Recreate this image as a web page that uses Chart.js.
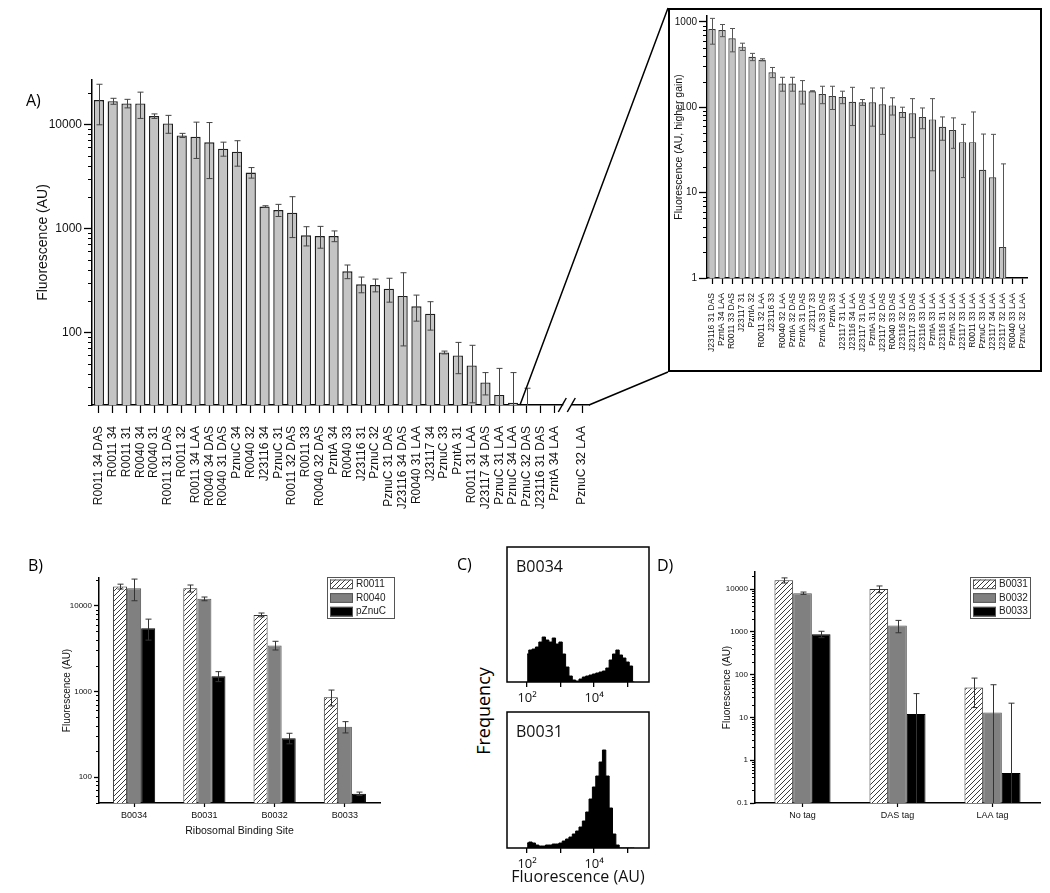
<!DOCTYPE html>
<html><head><meta charset="utf-8">
<script src="https://cdn.jsdelivr.net/npm/chart.js@4.4.1/dist/chart.umd.min.js"></script>
<style>
html,body{margin:0;padding:0;background:#fff;}
#root{position:relative;width:1050px;height:893px;overflow:hidden;background:#fff;}
canvas{position:absolute;}
.lbl{position:absolute;font-family:"Open Sans",sans-serif;color:#000;white-space:nowrap;line-height:1;-webkit-font-smoothing:antialiased;}
#insetBox{position:absolute;left:668px;top:8px;width:374px;height:364px;border:2px solid #000;box-sizing:border-box;pointer-events:none;}
</style></head><body>
<div id="root">
  <canvas id="cA" width="670" height="530" style="left:0;top:0;width:670px;height:530px"></canvas>
  <canvas id="cI" width="374" height="364" style="left:668px;top:8px;width:374px;height:364px"></canvas>
  <div id="insetBox"></div>
  <canvas id="cB" width="420" height="290" style="left:0;top:560px;width:420px;height:290px"></canvas>
  <canvas id="cC1" width="160" height="175" style="left:500px;top:540px;width:160px;height:175px"></canvas>
  <canvas id="cC2" width="160" height="188" style="left:500px;top:705px;width:160px;height:188px"></canvas>
  <canvas id="cD" width="360" height="290" style="left:690px;top:560px;width:360px;height:290px"></canvas>
  <div class="lbl" style="left:26px;top:92px;font-size:16px">A)</div>
  <div class="lbl" style="left:28px;top:557px;font-size:16px">B)</div>
  <div class="lbl" style="left:457px;top:556px;font-size:16px">C)</div>
  <div class="lbl" style="left:657px;top:557px;font-size:16px">D)</div>
  <div class="lbl" style="left:483px;top:711px;font-size:18px;transform:translate(-50%,-50%) rotate(-90deg)">Frequency</div>
</div>
<script>
// ---------------- DATA ----------------
const mainLabels = ["R0011 34 DAS","R0011 34","R0011 31","R0040 34","R0040 31","R0011 31 DAS","R0011 32","R0011 34 LAA","R0040 34 DAS","R0040 31 DAS","PznuC 34","R0040 32","J23116 34","PznuC 31","R0011 32 DAS","R0011 33","R0040 32 DAS","PzntA 34","R0040 33","J23116 31","PznuC 32","PznuC 31 DAS","J23116 34 DAS","R0040 31 LAA","J23117 34","PznuC 33","PzntA 31","R0011 31 LAA","J23117 34 DAS","PznuC 31 LAA","PznuC 34 LAA","PznuC 32 DAS","J23116 31 DAS","PzntA 34 LAA","","PznuC 32 LAA"];
const mainValues = [17100,16700,15900,15900,12000,10200,7830,7600,6710,5840,5460,3440,1620,1500,1415,857,844,844,386,290,285,263,224,178,151,64,60,48,33,25,21,12,null,null,null,null];
const mainErrors = [7200,1100,1500,4500,600,2000,360,2900,3700,900,1500,400,30,200,600,180,200,100,58,50,40,68,150,50,46,2,20,27,8,20,20,17,null,null,null,null];

const insetLabels = ["J23116 31 DAS","PzntA 34 LAA","R0011 33 DAS","J23117 31","PzntA 32","R0011 32 LAA","J23116 33","R0040 32 LAA","PzntA 32 DAS","PzntA 31 DAS","J23117 33","PzntA 33 DAS","PzntA 33","J23117 31 LAA","J23116 34 LAA","J23117 31 DAS","PzntA 31 LAA","J23117 32 DAS","R0040 33 DAS","J23116 32 LAA","J23117 33 DAS","J23116 33 LAA","PzntA 33 LAA","J23116 31 LAA","PzntA 32 LAA","J23117 33 LAA","R0011 33 LAA","PznuC 33 LAA","J23117 34 LAA","J23117 32 LAA","R0040 33 LAA","PznuC 32 LAA"];
const insetValues = [822,800,640,512,389,359,257,189,189,157,154,143,135,132,116,114,114,108,105,88,85,77,72,59,54,39,39,18.5,15.1,2.3,null,null];
const insetErrors = [275,130,195,50,38,10,35,35,35,48,2,33,41,22,55,9,54,60,24,12,41,21,54,18,21,24,49,30,33,19.4,null,null];

const rbsLabels = ["B0034","B0031","B0032","B0033"];
const bR0011 = [16700,15900,7800,857];
const bR0011Err = [1100,1500,400,180];
const bR0040 = [15900,12000,3440,386];
const bR0040Err = [4500,600,400,58];
const bPznuC = [5460,1500,285,64];
const bPznuCErr = [1500,200,40,3];

const tagLabels = ["No tag","DAS tag","LAA tag"];
const dB0031 = [16000,10000,50];
const dB0031Err = [2200,1800,33];
const dB0032 = [8000,1400,13];
const dB0032Err = [500,450,45];
const dB0033 = [880,12,0.5];
const dB0033Err = [150,24,21];

// histogram bins: log10(fluorescence) bin centres
const histBins = [2.0,2.1,2.2,2.3,2.4,2.5,2.6,2.7,2.8,2.9,3.0,3.1,3.2,3.3,3.4,3.5,3.6,3.7,3.8,3.9,4.0,4.1,4.2,4.3,4.4,4.5,4.6,4.7,4.8,4.9,5.0,5.1,5.2];
const histB0034 = [28,32,33,35,40,45,42,40,44,38,40,28,15,6,2,1,3,5,6,7,8,9,10,11,14,22,28,32,27,24,20,16,0];
const histB0031 = [5,6,5,3,2,2,3,3,4,4,5,7,9,11,14,17,21,27,36,49,61,72,86,98,72,40,14,3,0,0,0,0,0];
const histTicks = [2,3,4,5];
const histTickText = {2:"10²",4:"10⁴"};

// ---------------- HELPERS ----------------
const FONT = "'Liberation Sans', Arial, sans-serif";
const isPow10 = v => { const l = Math.log10(v); return Math.abs(l - Math.round(l)) < 1e-9; };
const isNice = v => { const e = Math.floor(Math.log10(v) + 1e-9); const m = v / Math.pow(10, e); return Math.abs(m - Math.round(m)) < 1e-6; };

function hatchPattern() {
  const c = document.createElement('canvas'); c.width = 5; c.height = 5;
  const g = c.getContext('2d');
  g.fillStyle = '#fff'; g.fillRect(0, 0, 5, 5);
  g.strokeStyle = '#222'; g.lineWidth = 0.9;
  g.beginPath(); g.moveTo(0, 5); g.lineTo(5, 0); g.moveTo(-1, 1); g.lineTo(1, -1); g.moveTo(4, 6); g.lineTo(6, 4); g.stroke();
  return g.createPattern(c, 'repeat');
}

const errorBars = {
  id: 'errorBars',
  afterDatasetsDraw(chart) {
    const ctx = chart.ctx, ys = chart.scales.y, ar = chart.chartArea;
    chart.data.datasets.forEach((ds, di) => {
      if (!ds.errors) return;
      const meta = chart.getDatasetMeta(di);
      ctx.save();
      ctx.beginPath(); ctx.rect(ar.left, ar.top - 3, ar.right - ar.left, ar.bottom - ar.top + 3); ctx.clip();
      ctx.strokeStyle = ds.errorColor || '#333'; ctx.lineWidth = ds.errorWidth || 1;
      meta.data.forEach((bar, i) => {
        const v = ds.data[i], e = ds.errors[i];
        if (v == null || e == null) return;
        const hi = v + e, lo = v - e;
        const yHi = ys.getPixelForValue(hi);
        const yLo = lo > 0 ? Math.min(ys.getPixelForValue(lo), ar.bottom) : ar.bottom;
        const x = Math.round(bar.x) + 0.5, cap = (ds.capWidth || 6) / 2;
        ctx.beginPath();
        ctx.moveTo(x, yHi); ctx.lineTo(x, yLo);
        ctx.moveTo(x - cap, yHi); ctx.lineTo(x + cap, yHi);
        if (lo > 0 && yLo < ar.bottom) { ctx.moveTo(x - cap, yLo); ctx.lineTo(x + cap, yLo); }
        ctx.stroke();
      });
      ctx.restore();
    });
  }
};

const minorTicks = {
  id: 'minorTicks',
  afterDraw(chart, args, o) {
    const s = chart.scales.y; if (!s || s.type !== 'logarithmic') return;
    const ctx = chart.ctx, len = (o && o.len) || 3;
    ctx.save(); ctx.strokeStyle = '#000'; ctx.lineWidth = 1;
    s.ticks.forEach(t => {
      if (isPow10(t.value) || !isNice(t.value)) return;
      const y = Math.round(s.getPixelForValue(t.value)) + 0.5;
      ctx.beginPath(); ctx.moveTo(s.right - len, y); ctx.lineTo(s.right, y); ctx.stroke();
    });
    ctx.restore();
  }
};

const boxLegend = {
  id: 'boxLegend',
  afterDraw(chart, args, o) {
    if (!o || !o.show) return;
    const ctx = chart.ctx, n = chart.data.datasets.length, rowH = o.h / n;
    ctx.save();
    ctx.strokeStyle = '#555'; ctx.lineWidth = 1;
    ctx.strokeRect(o.x + 0.5, o.y + 0.5, o.w, o.h);
    chart.data.datasets.forEach((ds, i) => {
      const y = o.y + i * rowH;
      ctx.fillStyle = ds.backgroundColor;
      ctx.fillRect(o.x + 3, y + 2.5, o.sw, rowH - 4);
      ctx.strokeStyle = '#555';
      ctx.strokeRect(o.x + 3.5, y + 3, o.sw - 1, rowH - 5);
      ctx.fillStyle = '#222'; ctx.font = o.font; ctx.textBaseline = 'middle'; ctx.textAlign = 'left';
      ctx.fillText(ds.label, o.x + o.sw + 6, y + rowH / 2 + 0.5);
    });
    ctx.restore();
  }
};

const zoomLines = {
  id: 'zoomLines',
  afterDraw(chart, args, o) {
    if (!o || !o.show) return;
    const ctx = chart.ctx, xs = chart.scales.x, ar = chart.chartArea;
    const x1 = (xs.getPixelForValue(o.fromIndex - 1) + xs.getPixelForValue(o.fromIndex)) / 2;
    const g = xs.getPixelForValue(o.gapIndex);
    ctx.save();
    ctx.strokeStyle = '#000'; ctx.lineWidth = 1.5;
    ctx.beginPath();
    ctx.moveTo(x1, ar.bottom); ctx.lineTo(o.boxLeft, o.boxTop);
    ctx.moveTo(ar.right, ar.bottom); ctx.lineTo(o.boxLeft, o.boxBottom);
    ctx.stroke();
    ctx.fillStyle = '#fff'; ctx.fillRect(g - 5, ar.bottom - 2, 8, 4);
    [-6, 3].forEach(dx => {
      ctx.beginPath(); ctx.moveTo(g + dx - 4, ar.bottom + 7); ctx.lineTo(g + dx + 4, ar.bottom - 7); ctx.stroke();
    });
    ctx.restore();
  }
};

const frame = {
  id: 'frame',
  afterDraw(chart, args, o) {
    if (!o || !o.text) return;
    const ctx = chart.ctx, ar = chart.chartArea;
    ctx.save();
    ctx.strokeStyle = '#000'; ctx.lineWidth = 1.5;
    ctx.strokeRect(ar.left, ar.top, ar.right - ar.left, ar.bottom - ar.top);
    ctx.fillStyle = '#111'; ctx.font = o.font; ctx.textBaseline = 'alphabetic'; ctx.textAlign = 'left';
    ctx.fillText(o.text, ar.left + o.dx, ar.top + o.dy);
    ctx.restore();
  }
};

function logAxis(p) {
  return {
    type: 'logarithmic', min: p.min, max: p.max,
    afterFit: s => { s.width = p.width; },
    border: { color: '#000', width: 1.5 },
    grid: { drawOnChartArea: false, drawTicks: true, tickLength: p.majorLen, tickWidth: 1.3,
      tickColor: c => (c.tick && isPow10(c.tick.value)) ? '#000' : 'rgba(0,0,0,0)' },
    ticks: { autoSkip: false, padding: 2, color: '#111', font: { family: FONT, size: p.tickSize },
      callback: v => isPow10(v) ? String(v) : '' },
    title: { display: true, text: p.title, color: '#111', font: { family: FONT, size: p.titleSize },
      padding: { top: p.titlePad, bottom: 0 } }
  };
}

function catAxis(p) {
  return {
    type: 'category',
    afterFit: s => { s.height = p.height; },
    border: { color: '#000', width: 1.5 },
    grid: { drawOnChartArea: false, offset: false, tickLength: p.tickLen, tickWidth: 1.2,
      tickColor: c => (p.hide != null && c.index === p.hide) ? 'rgba(0,0,0,0)' : '#000' },
    ticks: { autoSkip: false, maxRotation: p.rot, minRotation: p.rot, padding: p.pad, color: '#111',
      font: { family: FONT, size: p.size } },
    title: p.title ? { display: true, text: p.title, color: '#111', font: { family: FONT, size: p.titleSize },
      padding: { top: 0, bottom: p.titlePad } } : { display: false }
  };
}

const baseOpts = { responsive: false, animation: false, events: [] };

// ---------------- PANEL A (main) ----------------
const gapIndex = mainLabels.indexOf('');
new Chart(document.getElementById('cA'), {
  type: 'bar',
  data: { labels: mainLabels, datasets: [{ data: mainValues, errors: mainErrors,
    backgroundColor: '#c4c4c4', borderColor: '#1e1e1e', borderWidth: 1.4,
    barPercentage: 0.74, categoryPercentage: 1, capWidth: 6, errorColor: '#444' }] },
  options: Object.assign({}, baseOpts, {
    layout: { padding: { top: 80, right: 81, left: 0, bottom: 0 } },
    plugins: { legend: { display: false }, tooltip: { enabled: false }, minorTicks: { len: 4 },
      zoomLines: { show: true, fromIndex: 31, gapIndex: gapIndex, boxLeft: 668, boxTop: 8, boxBottom: 372 } },
    scales: {
      x: catAxis({ height: 125, tickLen: 8, rot: 90, pad: 13, size: 12, hide: gapIndex }),
      y: logAxis({ min: 20, max: 26700, width: 92, majorLen: 8, tickSize: 12, title: 'Fluorescence (AU)', titleSize: 14, titlePad: 35 })
    }
  }),
  plugins: [errorBars, minorTicks, zoomLines]
});

// ---------------- PANEL A (inset) ----------------
new Chart(document.getElementById('cI'), {
  type: 'bar',
  data: { labels: insetLabels, datasets: [{ data: insetValues, errors: insetErrors,
    backgroundColor: '#c4c4c4', borderColor: '#3a3a3a', borderWidth: 1.2,
    barPercentage: 0.74, categoryPercentage: 1, capWidth: 5, errorColor: '#555' }] },
  options: Object.assign({}, baseOpts, {
    layout: { padding: { top: 6, right: 9, left: 0, bottom: 0 } },
    plugins: { legend: { display: false }, tooltip: { enabled: false }, minorTicks: { len: 4 } },
    scales: {
      x: catAxis({ height: 94, tickLen: 6, rot: 90, pad: 9, size: 8.5 }),
      y: logAxis({ min: 1, max: 1170, width: 39, majorLen: 8, tickSize: 10, title: 'Fluorescence (AU, higher gain)', titleSize: 10.5, titlePad: 5 })
    }
  }),
  plugins: [errorBars, minorTicks]
});

// ---------------- PANEL B ----------------
const hatch = hatchPattern();
new Chart(document.getElementById('cB'), {
  type: 'bar',
  data: { labels: rbsLabels, datasets: [
    { label: 'R0011', data: bR0011, errors: bR0011Err, backgroundColor: hatch, borderColor: '#333', borderWidth: 1 },
    { label: 'R0040', data: bR0040, errors: bR0040Err, backgroundColor: '#808080', borderColor: '#555', borderWidth: 1 },
    { label: 'pZnuC', data: bPznuC, errors: bPznuCErr, backgroundColor: '#000', borderColor: '#000', borderWidth: 1 }
  ] },
  options: Object.assign({}, baseOpts, {
    datasets: { bar: { categoryPercentage: 0.6, barPercentage: 1, capWidth: 6, errorColor: '#444' } },
    layout: { padding: { top: 18, right: 40, left: 0, bottom: 0 } },
    plugins: { legend: { display: false }, tooltip: { enabled: false }, minorTicks: { len: 3 },
      boxLegend: { show: true, x: 327, y: 17, w: 67, h: 41, sw: 23, font: '10px ' + FONT } },
    scales: {
      x: catAxis({ height: 47, tickLen: 4, rot: 0, pad: 3, size: 9, title: 'Ribosomal Binding Site', titleSize: 10.5, titlePad: 13 }),
      y: logAxis({ min: 50, max: 21000, width: 99, majorLen: 5, tickSize: 8, title: 'Fluorescence (AU)', titleSize: 10, titlePad: 61 })
    }
  }),
  plugins: [errorBars, minorTicks, boxLegend]
});

// ---------------- PANEL C ----------------
function histChart(id, counts, name, ymax, xTitle) {
  return new Chart(document.getElementById(id), {
    type: 'line',
    data: { datasets: [{ data: histBins.map((b, i) => ({ x: b, y: counts[i] })), stepped: 'middle', fill: 'origin',
      borderColor: '#000', backgroundColor: '#000', borderWidth: 1, pointRadius: 0 }] },
    options: Object.assign({}, baseOpts, {
      layout: { padding: { top: 7, right: 11, left: 7, bottom: 0 } },
      plugins: { legend: { display: false }, tooltip: { enabled: false },
        frame: { text: name, dx: 9, dy: 25, font: "16px 'Open Sans', sans-serif" } },
      scales: {
        x: { type: 'linear', min: 1.4, max: 5.64,
          afterFit: s => { s.height = xTitle ? 45 : 33; },
          afterBuildTicks: s => { s.ticks = histTicks.map(v => ({ value: v })); },
          border: { display: false },
          grid: { drawOnChartArea: false, tickLength: 5, color: '#000', lineWidth: 1.3 },
          ticks: { autoSkip: false, maxRotation: 0, padding: 3, color: '#111', font: { family: "'Open Sans', sans-serif", size: 13 },
            callback: v => histTickText[v] || '' },
          title: xTitle ? { display: true, text: xTitle, color: '#111', font: { family: "'Open Sans', sans-serif", size: 16 }, padding: { top: 0, bottom: 6 } } : { display: false }
        },
        y: { display: false, min: 0, max: ymax }
      }
    }),
    plugins: [frame]
  });
}
histChart('cC1', histB0034, 'B0034', 135, null);
histChart('cC2', histB0031, 'B0031', 136, 'Fluorescence (AU)');

// ---------------- PANEL D ----------------
new Chart(document.getElementById('cD'), {
  type: 'bar',
  data: { labels: tagLabels, datasets: [
    { label: 'B0031', data: dB0031, errors: dB0031Err, backgroundColor: hatch, borderColor: '#333', borderWidth: 1 },
    { label: 'B0032', data: dB0032, errors: dB0032Err, backgroundColor: '#808080', borderColor: '#555', borderWidth: 1 },
    { label: 'B0033', data: dB0033, errors: dB0033Err, backgroundColor: '#000', borderColor: '#000', borderWidth: 1 }
  ] },
  options: Object.assign({}, baseOpts, {
    datasets: { bar: { categoryPercentage: 0.59, barPercentage: 1, capWidth: 6, errorColor: '#444' } },
    layout: { padding: { top: 12, right: 10, left: 0, bottom: 0 } },
    plugins: { legend: { display: false }, tooltip: { enabled: false }, minorTicks: { len: 3 },
      boxLegend: { show: true, x: 280, y: 17, w: 60, h: 41, sw: 23, font: '10px ' + FONT } },
    scales: {
      x: catAxis({ height: 47, tickLen: 4, rot: 0, pad: 3, size: 9 }),
      y: logAxis({ min: 0.1, max: 25000, width: 65, majorLen: 5, tickSize: 8, title: 'Fluorescence (AU)', titleSize: 10, titlePad: 31 })
    }
  }),
  plugins: [errorBars, minorTicks, boxLegend]
});
</script>
</body></html>
